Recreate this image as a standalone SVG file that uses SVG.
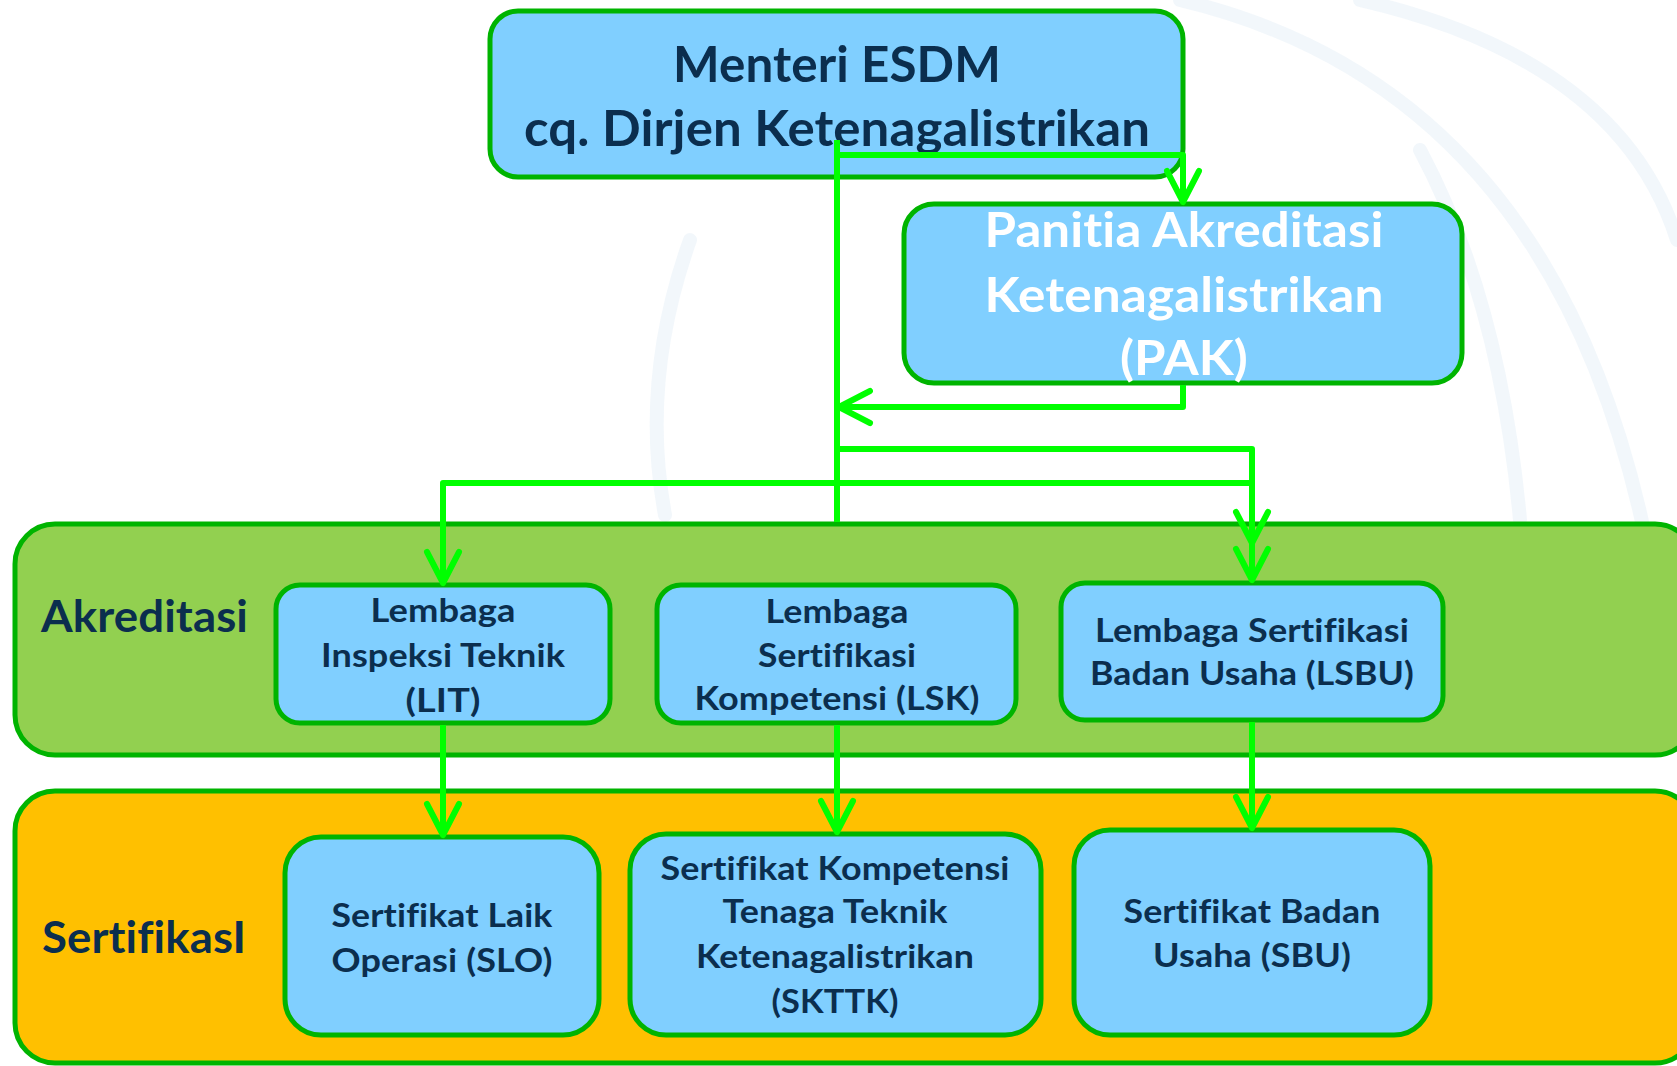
<svg xmlns="http://www.w3.org/2000/svg" width="1677" height="1066" viewBox="0 0 1677 1066">
<style>
.bg{fill:#ffffff}
.wm{fill:none;stroke:#eaf2f9;stroke-width:14;stroke-linecap:round;opacity:.6}
.box{fill:#80CFFF;stroke:#00B400;stroke-width:5}
.band1{fill:#92D050;stroke:#00B400;stroke-width:5}
.band2{fill:#FFC000;stroke:#00B400;stroke-width:5}
.t{font-family:Lato,"Liberation Sans",sans-serif;font-weight:700;fill:#0B2E4E;text-anchor:middle;font-variant-ligatures:none;font-feature-settings:"liga" 0,"dlig" 0,"clig" 0;letter-spacing:0.1px}
.w{fill:#ffffff}
.lbl{text-anchor:start}
.c{fill:none;stroke:#00FF00;stroke-width:6;stroke-linejoin:round}
</style>
<defs>
<marker id="ah" markerUnits="userSpaceOnUse" markerWidth="44" markerHeight="44" viewBox="-38 -22 44 44" refX="0" refY="0" orient="auto" overflow="visible">
<path d="M -31 -16 L 0 0 L -31 16" fill="none" stroke="#00FF00" stroke-width="6" stroke-linecap="round" stroke-linejoin="round"/>
</marker>
</defs>
<rect class="bg" x="0" y="0" width="1677" height="1066"/>
<g id="watermark">
<path class="wm" d="M 1180 0 Q 1560 90 1650 560"/>
<path class="wm" d="M 1360 0 Q 1620 60 1677 240"/>
<path class="wm" d="M 1420 150 Q 1500 300 1520 520"/>
<path class="wm" d="M 690 240 Q 640 380 665 515"/>
</g>
<g id="band-akreditasi">
<rect class="band1" x="15" y="524" width="1680" height="231" rx="40"/>
<text class="t lbl" x="41" y="632" font-size="44" textLength="207" lengthAdjust="spacingAndGlyphs">Akreditasi</text>
</g>
<g id="band-sertifikasi">
<rect class="band2" x="15" y="791" width="1680" height="272" rx="40"/>
<text class="t lbl" x="42" y="953" font-size="44" textLength="204" lengthAdjust="spacingAndGlyphs">SertifikasI</text>
</g>
<g id="menteri">
<rect class="box" x="490" y="11" width="693" height="166" rx="28"/>
<text class="t" x="837" y="82" font-size="49" textLength="328" lengthAdjust="spacingAndGlyphs">Menteri ESDM</text>
<text class="t" x="837" y="146" font-size="49" textLength="626" lengthAdjust="spacingAndGlyphs">cq. Dirjen Ketenagalistrikan</text>
</g>
<g id="pak">
<rect class="box" x="904" y="204" width="558" height="179" rx="30"/>
<text class="t w" x="1184" y="247" font-size="48" textLength="399" lengthAdjust="spacingAndGlyphs">Panitia Akreditasi</text>
<text class="t w" x="1184" y="312" font-size="48" textLength="399" lengthAdjust="spacingAndGlyphs">Ketenagalistrikan</text>
<text class="t w" x="1184" y="375" font-size="48" textLength="128" lengthAdjust="spacingAndGlyphs">(PAK)</text>
</g>
<g id="lit">
<rect class="box" x="276" y="585" width="334" height="138" rx="24"/>
<text class="t" x="443" y="622" font-size="33" textLength="145" lengthAdjust="spacingAndGlyphs">Lembaga</text>
<text class="t" x="443" y="667" font-size="33" textLength="244" lengthAdjust="spacingAndGlyphs">Inspeksi Teknik</text>
<text class="t" x="443" y="712" font-size="33" textLength="75" lengthAdjust="spacingAndGlyphs">(LIT)</text>
</g>
<g id="lsk">
<rect class="box" x="657" y="585" width="359" height="138" rx="24"/>
<text class="t" x="837" y="623" font-size="33" textLength="143" lengthAdjust="spacingAndGlyphs">Lembaga</text>
<text class="t" x="837" y="667" font-size="33" textLength="158" lengthAdjust="spacingAndGlyphs">Sertifikasi</text>
<text class="t" x="837" y="710" font-size="33" textLength="285" lengthAdjust="spacingAndGlyphs">Kompetensi (LSK)</text>
</g>
<g id="lsbu">
<rect class="box" x="1061" y="583" width="382" height="137" rx="24"/>
<text class="t" x="1252" y="642" font-size="33" textLength="314" lengthAdjust="spacingAndGlyphs">Lembaga Sertifikasi</text>
<text class="t" x="1252" y="685" font-size="33" textLength="324" lengthAdjust="spacingAndGlyphs">Badan Usaha (LSBU)</text>
</g>
<g id="slo">
<rect class="box" x="285" y="837" width="314" height="198" rx="36"/>
<text class="t" x="442" y="927" font-size="33" textLength="221" lengthAdjust="spacingAndGlyphs">Sertifikat Laik</text>
<text class="t" x="442" y="972" font-size="33" textLength="221" lengthAdjust="spacingAndGlyphs">Operasi (SLO)</text>
</g>
<g id="skttk">
<rect class="box" x="630" y="834" width="411" height="201" rx="36"/>
<text class="t" x="835" y="880" font-size="33" textLength="349" lengthAdjust="spacingAndGlyphs">Sertifikat Kompetensi</text>
<text class="t" x="835" y="923" font-size="33" textLength="225" lengthAdjust="spacingAndGlyphs">Tenaga Teknik</text>
<text class="t" x="835" y="968" font-size="33" textLength="278" lengthAdjust="spacingAndGlyphs">Ketenagalistrikan</text>
<text class="t" x="835" y="1013" font-size="33" textLength="127" lengthAdjust="spacingAndGlyphs">(SKTTK)</text>
</g>
<g id="sbu">
<rect class="box" x="1074" y="830" width="356" height="205" rx="36"/>
<text class="t" x="1252" y="923" font-size="33" textLength="257" lengthAdjust="spacingAndGlyphs">Sertifikat Badan</text>
<text class="t" x="1252" y="967" font-size="33" textLength="198" lengthAdjust="spacingAndGlyphs">Usaha (SBU)</text>
</g>
<g id="connectors">
<path class="c" d="M 837 140 V 522"/>
<path class="c" d="M 837 155 H 1183 V 202" marker-end="url(#ah)"/>
<path class="c" d="M 1183 385 V 407 H 839" marker-end="url(#ah)"/>
<path class="c" d="M 837 449 H 1252 V 580" marker-end="url(#ah)"/>
<path class="c" d="M 837 483 H 443 V 583" marker-end="url(#ah)"/>
<path class="c" d="M 837 483 H 1252 V 543" marker-end="url(#ah)"/>
<path class="c" d="M 443 725 V 835" marker-end="url(#ah)"/>
<path class="c" d="M 837 725 V 832" marker-end="url(#ah)"/>
<path class="c" d="M 1252 722 V 828" marker-end="url(#ah)"/>
</g>
</svg>
